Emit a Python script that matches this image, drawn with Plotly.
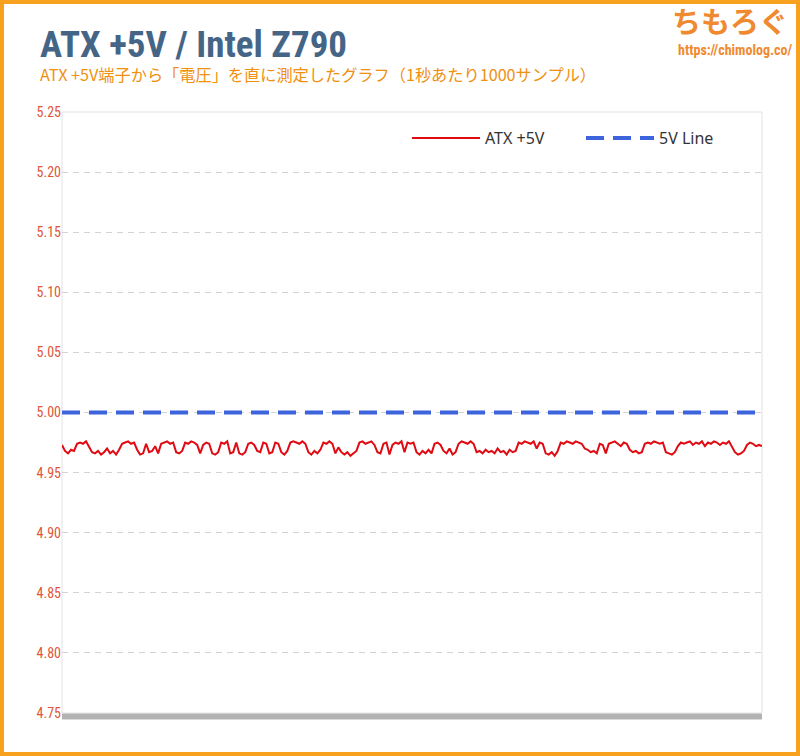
import plotly.graph_objects as go

# ---- data ----
atx_5v = [
    4.973, 4.968, 4.966, 4.969, 4.968, 4.974, 4.975, 4.974, 4.976, 4.972,
    4.967, 4.966, 4.968, 4.965, 4.967, 4.970, 4.966, 4.968, 4.965, 4.969,
    4.974, 4.975, 4.976, 4.974, 4.975, 4.969, 4.965, 4.966, 4.974, 4.967,
    4.968, 4.972, 4.966, 4.974, 4.975, 4.976, 4.974, 4.975, 4.967, 4.966,
    4.968, 4.975, 4.974, 4.976, 4.975, 4.973, 4.966, 4.973, 4.975, 4.974,
    4.966, 4.965, 4.967, 4.975, 4.974, 4.976, 4.966, 4.967, 4.975, 4.966,
    4.965, 4.967, 4.974, 4.975, 4.973, 4.968, 4.967, 4.975, 4.974, 4.966,
    4.967, 4.975, 4.974, 4.967, 4.965, 4.968, 4.975, 4.976, 4.975, 4.974,
    4.976, 4.974, 4.967, 4.965, 4.968, 4.966, 4.969, 4.975, 4.974, 4.976,
    4.974, 4.966, 4.971, 4.967, 4.965, 4.967, 4.964, 4.966, 4.968, 4.975,
    4.976, 4.974, 4.975, 4.976, 4.973, 4.967, 4.966, 4.974, 4.975, 4.965,
    4.973, 4.975, 4.974, 4.976, 4.967, 4.975, 4.974, 4.975, 4.967, 4.965,
    4.968, 4.966, 4.969, 4.966, 4.974, 4.975, 4.973, 4.968, 4.966, 4.970,
    4.965, 4.967, 4.974, 4.976, 4.975, 4.974, 4.976, 4.974, 4.967, 4.968,
    4.966, 4.969, 4.967, 4.968, 4.966, 4.970, 4.967, 4.968, 4.965, 4.969,
    4.967, 4.968, 4.975, 4.974, 4.976, 4.975, 4.974, 4.976, 4.970, 4.975,
    4.974, 4.966, 4.965, 4.967, 4.964, 4.968, 4.975, 4.974, 4.976, 4.975,
    4.974, 4.976, 4.975, 4.974, 4.970, 4.969, 4.967, 4.968, 4.966, 4.974,
    4.973, 4.966, 4.974, 4.975, 4.976, 4.974, 4.972, 4.975, 4.974, 4.969,
    4.967, 4.968, 4.966, 4.967, 4.974, 4.975, 4.974, 4.976, 4.975, 4.974,
    4.975, 4.967, 4.966, 4.965, 4.967, 4.972, 4.975, 4.974, 4.975, 4.976,
    4.973, 4.975, 4.974, 4.976, 4.972, 4.975, 4.974, 4.976, 4.975, 4.973,
    4.975, 4.974, 4.976, 4.972, 4.967, 4.965, 4.966, 4.968, 4.973, 4.975,
    4.974, 4.972, 4.973, 4.972,
]
samples = list(range(len(atx_5v)))
line_5v = [5.00] * len(atx_5v)

y_ticks = [4.75, 4.80, 4.85, 4.90, 4.95, 5.00, 5.05, 5.10, 5.15, 5.20, 5.25]
y_tick_labels = [f"{v:.2f}" for v in y_ticks]

title_text = "ATX +5V / Intel Z790"
subtitle_text = "ATX +5V端子から「電圧」を直に測定したグラフ（1秒あたり1000サンプル）"
series_names = ["ATX +5V", "5V Line"]

# ---- figure ----
L, R, T, B = 62, 38, 112, 43
W, H = 800, 756
pw, ph = W - L - R, H - T - B

fig = go.Figure()
fig.add_trace(go.Scatter(
    x=samples, y=atx_5v, mode="lines", name=series_names[0],
    line=dict(color="#E00A12", width=2),
))
fig.add_trace(go.Scatter(
    x=samples, y=line_5v, mode="lines", name=series_names[1],
    line=dict(color="#3D63DD", width=4, dash="18px,9px"),
))

cond = "Roboto Condensed, Liberation Sans Narrow, DejaVu Sans Condensed, sans-serif"

fig.update_layout(
    width=W, height=H,
    margin=dict(l=L, r=R, t=T, b=B),
    paper_bgcolor="white", plot_bgcolor="white",
    showlegend=True,
    legend=dict(
        orientation="h", x=0.99, xanchor="right", y=0.985, yanchor="top",
        font=dict(family="Noto Sans, sans-serif", size=16, color="#333333"),
        itemwidth=68, entrywidth=91, bgcolor="rgba(0,0,0,0)",
    ),
    xaxis=dict(
        range=[0, len(atx_5v) - 1], showticklabels=False, showgrid=False,
        zeroline=False, showline=False, ticks="",
    ),
    yaxis=dict(
        range=[4.75, 5.25], tickvals=y_ticks, ticktext=y_tick_labels,
        tickfont=dict(family=cond, size=14, color="#E0553A"),
        showgrid=True, gridcolor="#D3D3D3", griddash="6px,5px", gridwidth=1,
        zeroline=False, showline=False, ticks="", ticklen=0,
    ),
)

# plot frame (light gray)
fig.add_shape(type="rect", xref="paper", yref="paper", x0=0, x1=1, y0=0, y1=1,
              line=dict(color="#E2E2E2", width=1), layer="below")
# bottom thick axis bar
fig.add_shape(type="line", xref="paper", yref="paper", x0=0, x1=1,
              y0=-3.5 / ph, y1=-3.5 / ph, line=dict(color="#B3B3B3", width=6))
# orange outer border
fig.add_shape(type="rect", xref="paper", yref="paper",
              x0=(-L + 2) / pw, x1=1 + (R - 2) / pw,
              y0=(-B + 2) / ph, y1=1 + (T - 2) / ph,
              line=dict(color="#F7A11E", width=4))

# title & subtitle
fig.add_annotation(text=f"<b>{title_text}</b>", xref="paper", yref="paper",
                   x=(38 - L) / pw, y=1 + (T - 68) / ph, xanchor="left", yanchor="bottom",
                   showarrow=False,
                   font=dict(family=cond, size=37, color="#456587"))
fig.add_annotation(text=subtitle_text, xref="paper", yref="paper",
                   x=(38 - L) / pw, y=1 + (T - 88) / ph, xanchor="left", yanchor="bottom",
                   showarrow=False,
                   font=dict(family="Noto Sans CJK JP, sans-serif", size=16.2, color="#F0900E"))
# logo
fig.add_annotation(text="<b>ちもろぐ</b>", xref="paper", yref="paper",
                   x=1 + (790 - L - pw) / pw, y=1 + (T - 43) / ph, xanchor="right", yanchor="bottom",
                   showarrow=False,
                   font=dict(family="Noto Sans CJK JP, sans-serif", size=29, color="#F08A30"))
fig.add_annotation(text="<b>https://chimolog.co/</b>", xref="paper", yref="paper",
                   x=1 + (794 - L - pw) / pw, y=1 + (T - 60) / ph, xanchor="right", yanchor="bottom",
                   showarrow=False,
                   font=dict(family=cond, size=14, color="#F08A30"))

fig.write_html("out.html", config={"displayModeBar": False},
               post_script="document.body.style.margin='0px';")
